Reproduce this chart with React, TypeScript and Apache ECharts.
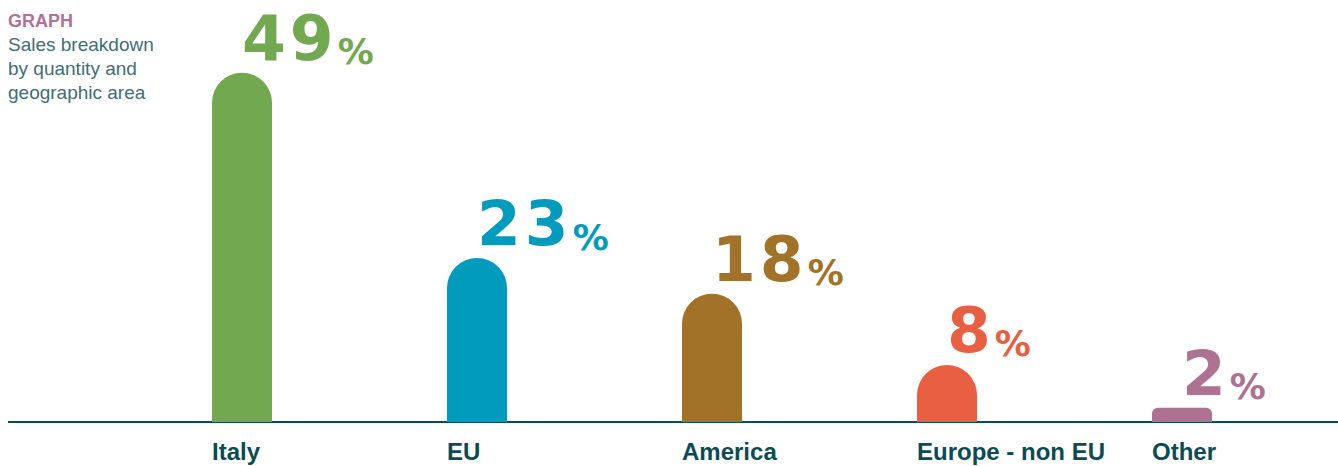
import React, { useEffect, useRef } from "react";
import * as echarts from "echarts";

const categories = ["Italy", "EU", "America", "Europe - non EU", "Other"];
const values = [49, 23, 18, 8, 2];
const barColors = ["#72a84f", "#009bbd", "#a17227", "#e95f41", "#ad7292"];
const titleLines = ["GRAPH", "Sales breakdown\nby quantity and\ngeographic area"];

const DARK = "#0b4b54";

export default function App() {
  const ref = useRef<HTMLDivElement>(null);
  useEffect(() => {
    if (!ref.current) return;
    const chart = echarts.init(ref.current, null, { renderer: "svg" });
    const option: any = {
      animation: false,
      grid: [
        { left: 124.5, right: 38.5, top: 30, bottom: 44 },
        { left: 212, width: 940, top: 30, bottom: 44 },
      ],
      xAxis: [
        {
          type: "category",
          gridIndex: 0,
          data: categories,
          boundaryGap: true,
          axisLine: { show: false },
          axisTick: { show: false },
          axisLabel: { show: false },
        },
        {
          type: "category",
          gridIndex: 1,
          data: categories,
          boundaryGap: false,
          axisLine: { show: false },
          axisTick: { show: false },
          splitLine: { show: false },
          axisLabel: {
            show: true,
            interval: 0,
            align: "left",
            margin: 17,
            fontSize: 24,
            fontWeight: "bold",
            fontFamily: "Liberation Sans",
            color: DARK,
          },
        },
      ],
      yAxis: [
        { type: "value", gridIndex: 0, min: 0, max: 55, show: false },
        { type: "value", gridIndex: 1, min: 0, max: 55, show: false },
      ],
      series: [
        {
          type: "bar",
          xAxisIndex: 0,
          yAxisIndex: 0,
          barWidth: 60,
          data: values.map((v, i) => ({
            value: v,
            itemStyle: {
              color: barColors[i],
              borderRadius: v < 5 ? [6, 6, 0, 0] : [30, 30, 0, 0],
            },
            label: {
              rich: {
                n: { color: barColors[i] },
                p: { color: barColors[i] },
              },
            },
          })),
          label: {
            show: true,
            position: [28, 0],
            align: "left",
            verticalAlign: "bottom",
            offset: [0, -3],
            formatter: (p: any) =>
              String(p.value)
                .split("")
                .map((d) => `{n|${d}}`)
                .join("") + "{p|%}",
            rich: {
              n: {
                fontFamily: "DejaVu Sans",
                fontWeight: "bold",
                fontSize: 63,
                lineHeight: 63,
                padding: [0, 2, 0, 2],
                verticalAlign: "bottom",
              },
              p: {
                fontFamily: "DejaVu Sans",
                fontWeight: "bold",
                fontSize: 36,
                lineHeight: 60,
                padding: [0, 0, 0, 2],
                verticalAlign: "bottom",
              },
            },
          },
        },
      ],
      graphic: [
        {
          type: "line",
          shape: { x1: 8, y1: 422, x2: 1338, y2: 422 },
          style: { stroke: DARK, lineWidth: 2 },
          silent: true,
        },
        {
          type: "text",
          x: 8,
          y: 11.5,
          style: {
            text: titleLines[0],
            fontFamily: "Liberation Sans",
            fontWeight: "bold",
            fontSize: 18,
            fill: "#b07194",
          },
        },
        {
          type: "text",
          x: 8,
          y: 32,
          style: {
            text: titleLines[1],
            fontFamily: "Liberation Sans",
            fontSize: 19,
            lineHeight: 24,
            fill: "#3f6e75",
          },
        },
      ],
    };
    chart.setOption(option);
    return () => chart.dispose();
  }, []);
  return (
    <div
      ref={ref}
      style={{ position: "fixed", left: 0, top: 0, width: 1338, height: 466, background: "#fff" }}
    />
  );
}
